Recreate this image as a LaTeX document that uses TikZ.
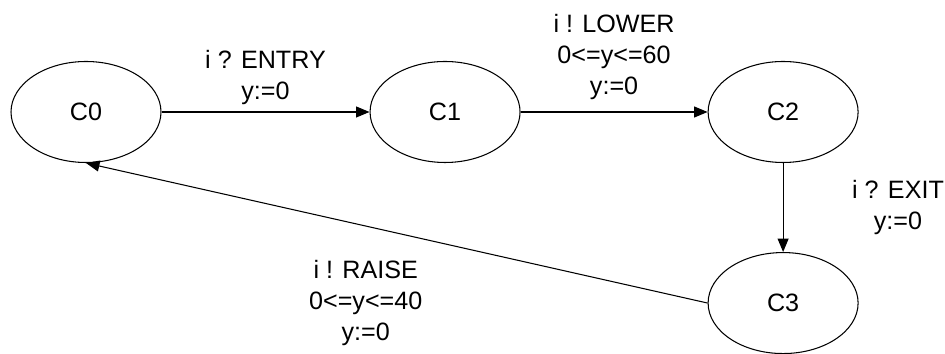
\documentclass[tikz,border=0pt]{standalone}
\usepackage{fontspec}
\setmainfont{Liberation Sans}
\usetikzlibrary{positioning, arrows.meta, shapes.geometric}

\begin{document}
\begin{tikzpicture}[
    state/.style={ellipse, draw, line width=0.6pt, minimum width=3cm, minimum height=2.02cm, font=\fontsize{14.3}{17.6}\selectfont},
    lbl/.style={align=center, font=\fontsize{14.3}{17.6}\selectfont, inner sep=2pt},
    arrow/.style={-{Triangle[length=0.27cm, width=0.22cm]}, line width=0.6pt},
]
\useasboundingbox (0,0) rectangle (18.9,7.08);

% locations
\node[state] (C0) at (1.72,4.84) {C0};
\node[state, right=4.16cm of C0] (C1) {C1};
\node[state, right=3.74cm of C1] (C2) {C2};
\node[state, below=1.78cm of C2] (C3) {C3};

% transitions
\draw[arrow] (C0) -- node[lbl, above=0.06cm] {i ? ENTRY\\y:=0} (C1);
\draw[arrow] (C1) -- node[lbl, above=0.16cm] {i ! LOWER\\0<=y<=60\\y:=0} (C2);
\draw[arrow] (C2) -- node[lbl, right=1.3cm] {i ? EXIT\\y:=0} (C3);
\draw[arrow] (C3.west) -- node[lbl, pos=0.55, below=0.6cm] {i ! RAISE\\0<=y<=40\\y:=0} (C0.south);

\end{tikzpicture}
\end{document}
